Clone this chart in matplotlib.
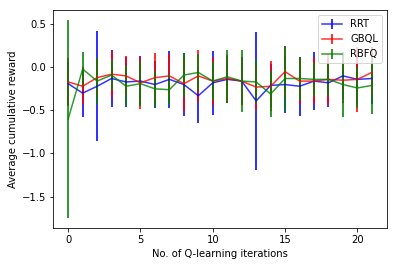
import numpy as np
import matplotlib
matplotlib.use("Agg")
import matplotlib.pyplot as plt

iters = np.arange(22)

rrt_mean = [-0.19, -0.30, -0.22, -0.13, -0.17, -0.16, -0.20, -0.14, -0.20, -0.33, -0.18,
            -0.14, -0.16, -0.39, -0.21, -0.20, -0.22, -0.16, -0.18, -0.10, -0.14, -0.13]
rrt_err = [0.25, 0.28, 0.64, 0.33, 0.29, 0.29, 0.27, 0.33, 0.37, 0.32, 0.37,
           0.27, 0.28, 0.80, 0.25, 0.33, 0.34, 0.34, 0.28, 0.27, 0.30, 0.30]

gbql_mean = [-0.17, -0.22, -0.12, -0.08, -0.10, -0.18, -0.12, -0.10, -0.19, -0.10, -0.16,
             -0.13, -0.16, -0.23, -0.22, -0.05, -0.16, -0.16, -0.14, -0.15, -0.14, -0.06]
gbql_err = [0.28, 0.22, 0.22, 0.27, 0.23, 0.30, 0.29, 0.26, 0.32, 0.30, 0.28,
            0.27, 0.28, 0.26, 0.29, 0.30, 0.27, 0.27, 0.30, 0.27, 0.38, 0.30]

rbfq_mean = [-0.60, -0.02, -0.16, -0.09, -0.22, -0.19, -0.25, -0.26, -0.09, -0.06, -0.16,
             -0.11, -0.16, -0.17, -0.31, -0.13, -0.13, -0.14, -0.14, -0.20, -0.24, -0.21]
rbfq_err = [1.15, 0.20, 0.27, 0.175, 0.23, 0.26, 0.21, 0.18, 0.26, 0.22, 0.225,
            0.31, 0.36, 0.25, 0.27, 0.38, 0.25, 0.19, 0.19, 0.38, 0.23, 0.33]

fig = plt.figure(figsize=(398 / 72, 266 / 72), dpi=72)
ax = fig.add_axes([0.1332, 0.1429, 0.8392, 0.8195])

ax.errorbar(iters, rrt_mean, yerr=rrt_err, color="b", elinewidth=2, alpha=0.8, label="RRT")
ax.errorbar(iters, gbql_mean, yerr=gbql_err, color="r", elinewidth=2, alpha=0.8, label="GBQL")
ax.errorbar(iters, rbfq_mean, yerr=rbfq_err, color="g", elinewidth=2, alpha=0.8, label="RBFQ")

ax.set_xlabel("No. of Q-learning iterations", fontsize=10)
ax.set_ylabel("Average cumulative reward", fontsize=10)
ax.tick_params(labelsize=10)
ax.legend(loc="upper right", fontsize=10)

fig.savefig("out.png", dpi=72)
